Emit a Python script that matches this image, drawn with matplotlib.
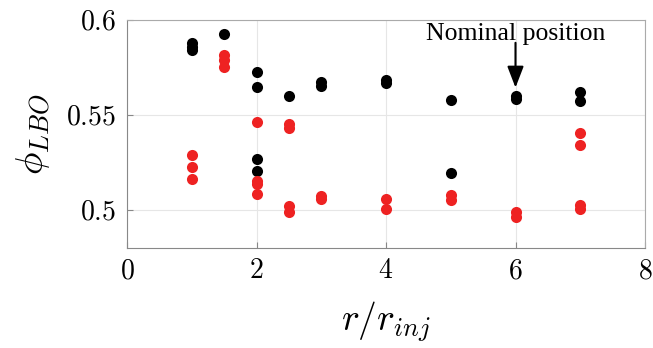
import matplotlib
matplotlib.use("Agg")
import matplotlib.pyplot as plt

plt.rcParams['mathtext.fontset'] = 'cm'
plt.rcParams['font.family'] = 'serif'
plt.rcParams['font.serif'] = ['Liberation Serif', 'DejaVu Serif']

# Black series (r/r_inj, phi_LBO)
black_x = [1, 1, 1, 1.5, 2, 2, 2, 2, 2.5, 3, 3, 4, 4, 5, 5, 6, 6, 7, 7]
black_y = [0.588, 0.586, 0.584, 0.5928, 0.5724, 0.5648, 0.5267, 0.5204, 0.5599,
           0.5672, 0.5654, 0.5682, 0.5668, 0.5581, 0.5195, 0.5599, 0.5585, 0.5623, 0.5576]

# Red series
red_x = [1, 1, 1, 1.5, 1.5, 1.5, 2, 2, 2, 2, 2.5, 2.5, 2.5, 2.5, 3, 3, 4, 4, 5, 5, 6, 6, 7, 7, 7, 7]
red_y = [0.5288, 0.5225, 0.5162, 0.5817, 0.579, 0.5754, 0.5461, 0.5153, 0.5136, 0.5084,
         0.5455, 0.5433, 0.502, 0.4991, 0.5075, 0.5058, 0.5058, 0.5005, 0.5079, 0.5052,
         0.4988, 0.4962, 0.5407, 0.5344, 0.5026, 0.5005]

xticks = [0, 2, 4, 6, 8]
yticks = [0.5, 0.55, 0.6]
ytick_labels = ['0.5', '0.55', '0.6']

fig = plt.figure(figsize=(6.53, 3.48), dpi=100)
ax = fig.add_axes([127/653, 1 - 248/348, (645-127)/653, (248-20)/348])

ax.plot(black_x, black_y, 'o', color='black', ms=8, mec='none', zorder=3)
ax.plot(red_x, red_y, 'o', color='#ee2222', ms=8, mec='none', zorder=3)

ax.set_xlim(0, 8)
ax.set_ylim(0.48, 0.6)
ax.set_xticks(xticks)
ax.set_xticklabels([f'${t}$' for t in xticks])
ax.set_yticks(yticks)
ax.set_yticklabels([f'${t}$' for t in ytick_labels])
ax.tick_params(direction='in', length=4, colors='#888888', labelcolor='black', labelsize=20, pad=8)
ax.grid(True, color='#e6e6e6', lw=0.8)
ax.set_axisbelow(True)
for s in ax.spines.values():
    s.set_color('#aaaaaa')
    s.set_linewidth(0.8)
ax.spines['bottom'].set_color('#888888')
ax.spines['left'].set_color('#888888')

ax.set_xlabel(r'$r/r_{inj}$', fontsize=27, labelpad=11)
ax.set_ylabel(r'$\phi_{LBO}$', fontsize=27, labelpad=10)

ax.text(6, 0.5927, 'Nominal position', ha='center', va='center', fontsize=18.5)
ax.annotate('', xy=(6, 0.5644), xytext=(6, 0.588),
            arrowprops=dict(arrowstyle='-|>,head_length=0.65,head_width=0.25',
                            color='black', lw=1.5, mutation_scale=20,
                            shrinkA=0, shrinkB=0))

fig.savefig('out.png', dpi=100)
